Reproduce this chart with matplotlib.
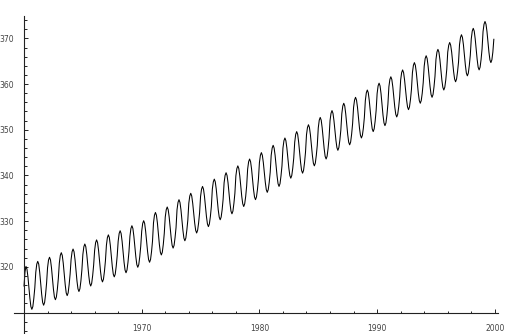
import matplotlib
matplotlib.use('Agg')
import matplotlib.pyplot as plt
from matplotlib.ticker import FixedLocator, NullFormatter
import numpy as np

# Monthly values, one row per year (Jan..Dec)
co2_1960s = [
    [315.8, 318.9, 320.1, 319.5, 317.8, 315.4, 313.1, 311.3, 310.7, 311.3, 313.1, 315.4],
    [318.8, 320.6, 321.2, 320.6, 318.8, 316.4, 314.0, 312.2, 311.6, 312.2, 314.0, 316.4],
    [319.8, 321.5, 322.1, 321.5, 319.8, 317.5, 315.1, 313.4, 312.8, 313.4, 315.1, 317.5],
    [320.8, 322.5, 323.1, 322.5, 320.8, 318.4, 316.1, 314.3, 313.7, 314.3, 316.1, 318.4],
    [321.6, 323.3, 323.9, 323.3, 321.6, 319.3, 316.9, 315.2, 314.6, 315.2, 316.9, 319.3],
    [322.7, 324.4, 325.0, 324.4, 322.7, 320.4, 318.1, 316.4, 315.8, 316.4, 318.1, 320.4],
    [323.6, 325.3, 325.9, 325.3, 323.6, 321.3, 319.0, 317.3, 316.7, 317.3, 319.0, 321.3],
    [324.7, 326.4, 327.0, 326.4, 324.7, 322.4, 320.1, 318.4, 317.8, 318.4, 320.1, 322.4],
    [325.6, 327.3, 327.9, 327.3, 325.6, 323.3, 321.0, 319.3, 318.7, 319.3, 321.0, 323.3],
    [326.7, 328.4, 329.0, 328.4, 326.7, 324.5, 322.2, 320.5, 319.9, 320.5, 322.2, 324.5],
]
co2_1970s = [
    [327.8, 329.5, 330.1, 329.5, 327.8, 325.6, 323.3, 321.6, 321.0, 321.6, 323.3, 325.6],
    [329.6, 331.3, 331.9, 331.3, 329.6, 327.3, 324.9, 323.2, 322.6, 323.2, 324.9, 327.3],
    [330.9, 332.5, 333.1, 332.5, 330.9, 328.6, 326.4, 324.7, 324.1, 324.7, 326.4, 328.6],
    [332.5, 334.1, 334.7, 334.1, 332.5, 330.2, 328.0, 326.3, 325.7, 326.3, 328.0, 330.2],
    [333.9, 335.5, 336.1, 335.5, 333.9, 331.8, 329.6, 328.0, 327.4, 328.0, 329.6, 331.8],
    [335.4, 337.0, 337.6, 337.0, 335.4, 333.2, 331.0, 329.4, 328.8, 329.4, 331.0, 333.2],
    [337.0, 338.6, 339.2, 338.6, 337.0, 334.8, 332.5, 330.9, 330.3, 330.9, 332.5, 334.8],
    [338.4, 340.0, 340.6, 340.0, 338.4, 336.1, 333.9, 332.2, 331.6, 332.2, 333.9, 336.1],
    [339.9, 341.5, 342.1, 341.5, 339.9, 337.7, 335.4, 333.8, 333.2, 333.8, 335.4, 337.7],
    [341.4, 343.0, 343.6, 343.0, 341.4, 339.2, 336.9, 335.3, 334.7, 335.3, 336.9, 339.2],
]
co2_1980s = [
    [342.8, 344.4, 345.0, 344.4, 342.8, 340.7, 338.5, 336.9, 336.3, 336.9, 338.5, 340.7],
    [344.4, 346.0, 346.6, 346.0, 344.4, 342.1, 339.9, 338.2, 337.6, 338.2, 339.9, 342.1],
    [346.0, 347.6, 348.2, 347.6, 346.0, 343.8, 341.6, 340.0, 339.4, 340.0, 341.6, 343.8],
    [347.3, 349.0, 349.6, 349.0, 347.3, 345.1, 342.8, 341.1, 340.5, 341.1, 342.8, 345.1],
    [348.9, 350.5, 351.1, 350.5, 348.9, 346.6, 344.4, 342.7, 342.1, 342.7, 344.4, 346.6],
    [350.4, 352.1, 352.7, 352.1, 350.4, 348.2, 345.9, 344.2, 343.6, 344.2, 345.9, 348.2],
    [352.0, 353.6, 354.2, 353.6, 352.0, 349.9, 347.7, 346.1, 345.5, 346.1, 347.7, 349.9],
    [353.5, 355.2, 355.8, 355.2, 353.5, 351.3, 349.0, 347.3, 346.7, 347.3, 349.0, 351.3],
    [354.9, 356.5, 357.1, 356.5, 354.9, 352.7, 350.4, 348.8, 348.2, 348.8, 350.4, 352.7],
    [356.4, 358.1, 358.7, 358.1, 356.4, 354.2, 351.9, 350.2, 349.6, 350.2, 351.9, 354.2],
]
co2_1990s = [
    [357.9, 359.6, 360.2, 359.6, 357.9, 355.6, 353.2, 351.5, 350.9, 351.5, 353.2, 355.6],
    [359.4, 361.0, 361.6, 361.0, 359.4, 357.2, 355.0, 353.4, 352.8, 353.4, 355.0, 357.2],
    [360.9, 362.5, 363.1, 362.5, 360.9, 358.8, 356.6, 355.0, 354.4, 355.0, 356.6, 358.8],
    [362.5, 364.1, 364.7, 364.1, 362.5, 360.3, 358.0, 356.4, 355.8, 356.4, 358.0, 360.3],
    [363.9, 365.6, 366.2, 365.6, 363.9, 361.7, 359.4, 357.7, 357.1, 357.7, 359.4, 361.7],
    [365.4, 367.0, 367.6, 367.0, 365.4, 363.2, 360.9, 359.3, 358.7, 359.3, 360.9, 363.2],
    [367.0, 368.5, 369.1, 368.5, 367.0, 364.8, 362.7, 361.1, 360.5, 361.1, 362.7, 364.8],
    [368.6, 370.2, 370.8, 370.2, 368.6, 366.3, 364.1, 362.4, 361.8, 362.4, 364.1, 366.3],
    [369.9, 371.6, 372.2, 371.6, 369.9, 367.7, 365.4, 363.7, 363.1, 363.7, 365.4, 367.7],
    [371.5, 373.1, 373.7, 373.1, 371.5, 369.2, 367.0, 365.3, 364.7, 365.3, 367.0, 369.8],
]
start_year = 1960
x_labels = [1970, 1980, 1990, 2000]
y_labels = [320, 330, 340, 350, 360, 370]

co2 = np.concatenate([np.ravel(d) for d in (co2_1960s, co2_1970s, co2_1980s, co2_1990s)])
t = start_year + np.arange(len(co2)) / 12.0

fig = plt.figure(figsize=(5.14, 3.34), dpi=100)
ax = fig.add_axes([0, 0, 1, 1])
ax.plot(t, co2, color='black', lw=0.75)

ax.set_xlim(1957.96, 2001.63)
ax.set_ylim(305.3, 378.4)

# Mathematica-like crossing axes
ax.spines['top'].set_visible(False)
ax.spines['right'].set_visible(False)
ax.spines['left'].set_position(('data', 1960))
ax.spines['bottom'].set_position(('data', 310))
ax.spines['left'].set_bounds(305.5, 374.8)
ax.spines['bottom'].set_bounds(1959.15, 2000.3)
for s in ('left', 'bottom'):
    ax.spines[s].set_linewidth(0.8)
    ax.spines[s].set_color('#222222')

ax.xaxis.set_major_locator(FixedLocator(x_labels))
ax.xaxis.set_minor_locator(FixedLocator(np.arange(1962, 2000, 2)))
ax.yaxis.set_major_locator(FixedLocator(y_labels))
ax.yaxis.set_minor_locator(FixedLocator(np.arange(306, 375, 2)))
ax.xaxis.set_minor_formatter(NullFormatter())
ax.yaxis.set_minor_formatter(NullFormatter())

ax.tick_params(which='both', direction='in', color='#222222', width=0.7,
               labelsize=5.5, labelcolor='#444444')
ax.tick_params(which='major', length=2.6)
ax.tick_params(which='minor', length=1.8)
ax.tick_params(axis='x', which='major', pad=8)
ax.tick_params(axis='y', which='major', pad=7)

fig.savefig('out.png', dpi=100)
